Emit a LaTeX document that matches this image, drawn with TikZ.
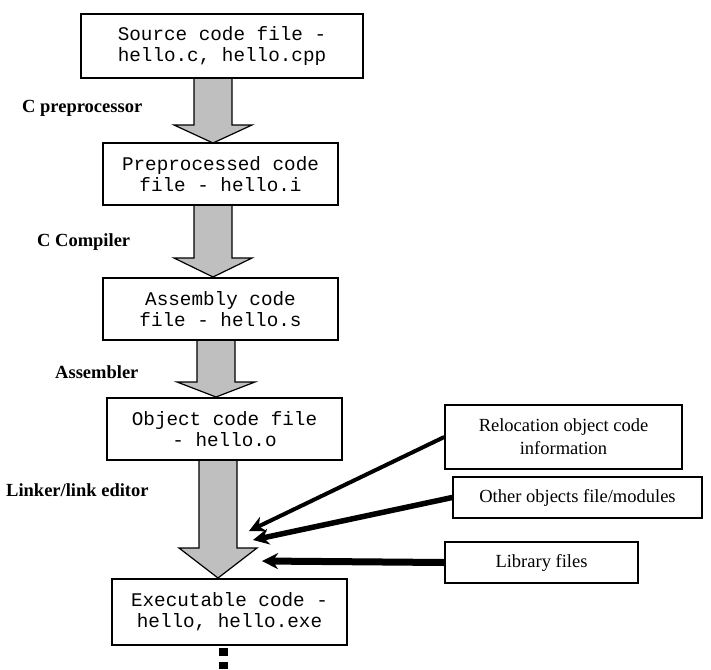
\documentclass[tikz,border=0pt]{standalone}
\usepackage{fontspec}
\setmainfont{Liberation Serif}
\setmonofont{Liberation Mono}
\usetikzlibrary{arrows.meta,positioning}
\tikzset{
  file/.style={draw, line width=1.5pt, inner sep=0pt, align=center, font=\ttfamily\fontsize{19.3}{21}\selectfont},
  input/.style={draw, line width=1.5pt, inner sep=0pt, align=center, font=\fontsize{18.5}{23}\selectfont},
  stage/.style={anchor=west, inner sep=0pt, font=\bfseries\fontsize{18.5}{20}\selectfont},
  blockarrow/.style={draw, fill=black!25, line width=1.2pt},
  feed/.style={line width=4pt, -{Stealth[length=16pt,width=16pt]}}
}
\begin{document}
\begin{tikzpicture}[x=1pt,y=-1pt]
				\useasboundingbox (0,0) rectangle (711,669);
				% the four tool steps
				\foreach \x/\ya/\yb/\yc in {213/78/125/143, 213/205/258/277, 216/340/382/397, 218/460/548/578}
					\draw[blockarrow] (\x-19,\ya) -- (\x-19,\yb) -- (\x-39,\yb) -- (\x,\yc) -- (\x+39,\yb) -- (\x+19,\yb) -- (\x+19,\ya);
				\node[file, minimum width=282pt, minimum height=64pt] (src) at (222,46) {Source code file -\\hello.c, hello.cpp};
				\node[file, minimum width=235pt, minimum height=62pt] (pre) at (220.5,174) {Preprocessed code\\file - hello.i};
				\node[file, minimum width=235pt, minimum height=62pt] (asm) at (220.5,309) {Assembly code\\file - hello.s};
				\node[file, minimum width=235pt, minimum height=62pt] (obj) at (224.5,429) {Object code file\\- hello.o};
				\node[file, minimum width=235pt, minimum height=66pt] (exe) at (229.5,612) {Executable code -\\hello, hello.exe};
				\node[stage] (cpp) at (22,108) {C preprocessor};
				\node[stage] (cc) at (37,242) {C Compiler};
				\node[stage] (as) at (55,372) {Assembler};
				\node[stage] (ld) at (6,490) {Linker/link editor};
				% what the linker takes in
				\node[input, minimum width=237pt, minimum height=64pt] (reloc) at (563.5,437) {Relocation object code\\information};
				\node[input, minimum width=249pt, minimum height=41pt] (other) at (577.5,497.5) {Other objects file/modules};
				\node[input, minimum width=193pt, minimum height=41pt] (lib) at (541.5,562.5) {Library files};
				\coordinate (t1) at (249,531);
				\coordinate (t2) at (253,540);
				\coordinate (t3) at (262,561);
				\draw[feed] (reloc.west) -- (t1);
				\draw[feed, line width=5.5pt] (other.west) -- (t2);
				\draw[feed, line width=7pt] (lib.west) -- (t3);
				\coordinate (tail) at (223.5,669);
				\draw[line width=9pt, dash pattern=on 8pt off 6pt] ([yshift=-2pt]exe.south -| tail) -- (tail);
\end{tikzpicture}
\end{document}
